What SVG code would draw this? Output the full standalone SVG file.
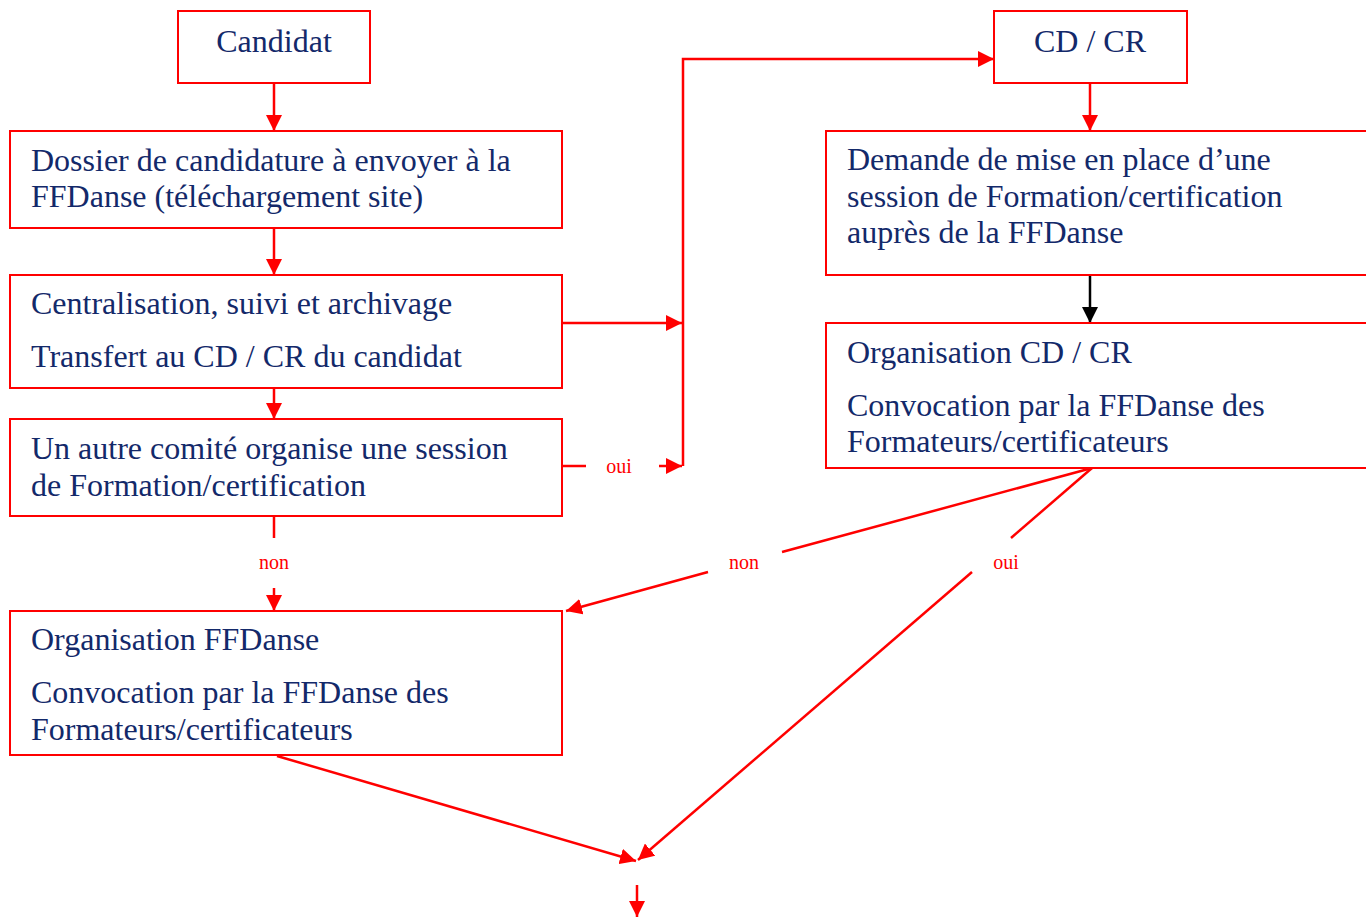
<svg xmlns="http://www.w3.org/2000/svg" width="1366" height="917" viewBox="0 0 1366 917">
<style>
.box{fill:#ffffff;stroke:#ff0000;stroke-width:2}
.t{font-family:"Liberation Serif","Times New Roman",serif;font-size:32px;fill:#13296a}
.c{text-anchor:middle}
.lbl{font-family:"Liberation Serif","Times New Roman",serif;font-size:20px;fill:#ff0000;text-anchor:middle}
.ln{fill:none;stroke:#ff0000;stroke-width:2.5}
.lk{fill:none;stroke:#000000;stroke-width:2.5}
</style>
<defs>
<marker id="ar" markerUnits="userSpaceOnUse" markerWidth="16" markerHeight="16" viewBox="0 0 14 14" refX="14" refY="7" orient="auto"><path d="M0,0 L14,7 L0,14 z" fill="#ff0000"/></marker>
<marker id="ak" markerUnits="userSpaceOnUse" markerWidth="16" markerHeight="16" viewBox="0 0 14 14" refX="14" refY="7" orient="auto"><path d="M0,0 L14,7 L0,14 z" fill="#000000"/></marker>
</defs>
<rect x="0" y="0" width="1366" height="917" fill="#ffffff"/>
<g id="connectors">
<line class="ln" x1="274" y1="83" x2="274" y2="131" marker-end="url(#ar)"/>
<line class="ln" x1="274" y1="228" x2="274" y2="275" marker-end="url(#ar)"/>
<line class="ln" x1="274" y1="388" x2="274" y2="419" marker-end="url(#ar)"/>
<line class="ln" x1="562" y1="323" x2="682" y2="323" marker-end="url(#ar)"/>
<path class="ln" d="M683,466 L683,59 L994,59" marker-end="url(#ar)"/>
<line class="ln" x1="562" y1="466" x2="586" y2="466"/>
<line class="ln" x1="659" y1="466" x2="682" y2="466" marker-end="url(#ar)"/>
<text class="lbl" x="619" y="473">oui</text>
<line class="ln" x1="274" y1="516" x2="274" y2="538"/>
<text class="lbl" x="274" y="569">non</text>
<line class="ln" x1="274" y1="588" x2="274" y2="611" marker-end="url(#ar)"/>
<line class="ln" x1="1090" y1="83" x2="1090" y2="131" marker-end="url(#ar)"/>
<line class="lk" x1="1090" y1="275" x2="1090" y2="323" marker-end="url(#ak)"/>
<line class="ln" x1="1092" y1="468" x2="782" y2="552"/>
<text class="lbl" x="744" y="569">non</text>
<line class="ln" x1="708" y1="572" x2="566" y2="611" marker-end="url(#ar)"/>
<line class="ln" x1="1092" y1="468" x2="1011" y2="538"/>
<text class="lbl" x="1006" y="569">oui</text>
<line class="ln" x1="972" y1="572" x2="638" y2="860" marker-end="url(#ar)"/>
<line class="ln" x1="277" y1="756" x2="636" y2="861" marker-end="url(#ar)"/>
<line class="ln" x1="637" y1="885" x2="637" y2="917" marker-end="url(#ar)"/>
</g>
<g id="candidat">
<rect class="box" x="178" y="11" width="192" height="72"/>
<text class="t c" x="274" y="52">Candidat</text>
</g>
<g id="dossier">
<rect class="box" x="10" y="131" width="552" height="97"/>
<text class="t" x="31" y="171">Dossier de candidature à envoyer à la</text>
<text class="t" x="31" y="207">FFDanse (téléchargement site)</text>
</g>
<g id="centralisation">
<rect class="box" x="10" y="275" width="552" height="113"/>
<text class="t" x="31" y="314">Centralisation, suivi et archivage</text>
<text class="t" x="31" y="367">Transfert au CD / CR du candidat</text>
</g>
<g id="autre-comite">
<rect class="box" x="10" y="419" width="552" height="97"/>
<text class="t" x="31" y="459">Un autre comité organise une session</text>
<text class="t" x="31" y="496">de Formation/certification</text>
</g>
<g id="organisation-ffdanse">
<rect class="box" x="10" y="611" width="552" height="144"/>
<text class="t" x="31" y="650">Organisation FFDanse</text>
<text class="t" x="31" y="703">Convocation par la FFDanse des</text>
<text class="t" x="31" y="740">Formateurs/certificateurs</text>
</g>
<g id="cd-cr">
<rect class="box" x="994" y="11" width="193" height="72"/>
<text class="t c" x="1090" y="52">CD / CR</text>
</g>
<g id="demande">
<rect class="box" x="826" y="131" width="560" height="144"/>
<text class="t" x="847" y="170">Demande de mise en place d’une</text>
<text class="t" x="847" y="207">session de Formation/certification</text>
<text class="t" x="847" y="243">auprès de la FFDanse</text>
</g>
<g id="organisation-cd-cr">
<rect class="box" x="826" y="323" width="560" height="145"/>
<text class="t" x="847" y="363">Organisation CD / CR</text>
<text class="t" x="847" y="416">Convocation par la FFDanse des</text>
<text class="t" x="847" y="452">Formateurs/certificateurs</text>
</g>
</svg>
